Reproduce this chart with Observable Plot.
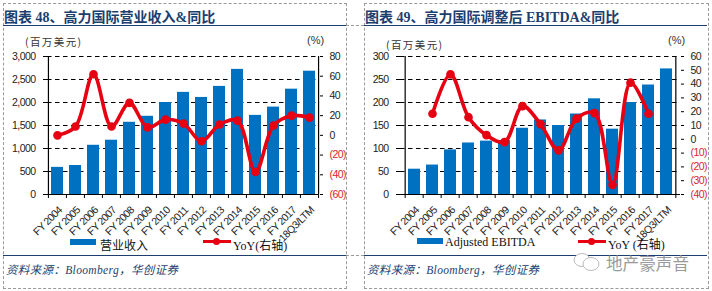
<!DOCTYPE html>
<html><head><meta charset="utf-8">
<script src="https://cdn.jsdelivr.net/npm/d3@7"></script>
<script src="https://cdn.jsdelivr.net/npm/@observablehq/plot@0.6"></script>
<style>
html,body{margin:0;padding:0;background:#fff;overflow:hidden}
#page{position:relative;width:712px;height:291px;overflow:hidden}
#page svg.panel{position:absolute;top:0;background:transparent}
.abs{position:absolute;white-space:nowrap;line-height:1}
.title{font:bold 14px "Liberation Serif","Noto Sans CJK SC";color:#1c3f6e}
.src{font:italic 11.5px "Liberation Serif","Noto Sans CJK SC";color:#1c3f6e;letter-spacing:.35px}
.unit{font:10.5px "Noto Sans CJK SC";color:#333;letter-spacing:1.4px}
.pct{font:11px "Liberation Sans";color:#333}
.leg{font:12px "Liberation Serif","Noto Sans CJK SC";color:#111}
.box{position:absolute}
</style></head><body><div id="page"></div>
<script>
const categories = ["FY 2004","FY 2005","FY 2006","FY 2007","FY 2008","FY 2009","FY 2010","FY 2011","FY 2012","FY 2013","FY 2014","FY 2015","FY 2016","FY 2017","18Q3/LTM"];
const revenue = [590,630,1070,1180,1570,1700,2000,2220,2110,2350,2720,1720,1900,2290,2680];
const revenueYoY = [0,9,62,9,33,8,16,12,-6,11,15,-37,10,20,18];
const ebitda = [55,64,97,112,116,117,144,162,150,175,208,142,200,238,273];
const ebitdaYoY = [null,18.5,47,16,3,-2,24,11,-8,15,19,-33,41,18.5,null];
const leftTicks = [0,500,1000,1500,2000,2500,3000];
const leftTicks2 = [0,50,100,150,200,250,300];
const rightTicksA = [-60,-40,-20,0,20,40,60,80];
const rightTicksB = [-40,-30,-20,-10,0,10,20,30,40,50,60];

const page = document.getElementById("page");
const ink = "#000", sideRed = "#d9232e";
const fontStyle = {fontFamily:"'Liberation Sans'", fontSize:"10.5px", letterSpacing:"-0.55px", color:"#222"};

function panel({left,width,mL,mR,values,yoy,lTicks,rTicks,lMax,rMin,rMax}){
  const toLeft = v => v == null ? null : (v - rMin) / (rMax - rMin) * lMax;
  const fromLeft = v => Math.round(v / lMax * (rMax - rMin) + rMin);
  const fmt = v => { const r = fromLeft(v); return r < 0 ? `(${-r})` : `${r}`; };
  const step = (width - mL - mR) / categories.length;
  const rows = categories.map((c,i)=>({c,v:values[i],r:toLeft(yoy[i])}));
  const posT = rTicks.filter(t=>t>=0).map(toLeft), negT = rTicks.filter(t=>t<0).map(toLeft);
  const svg = Plot.plot({
    width, height:240, marginLeft:mL, marginRight:mR, marginTop:56, marginBottom:46,
    style:{...fontStyle, background:"transparent", overflow:"visible"},
    x:{type:"band", domain:categories, paddingInner:0.33, paddingOuter:0.165, align:.5, label:null},
    y:{domain:[0,lMax], label:null},
    marks:[
      Plot.ruleY(lTicks.filter(t=>t>0),{stroke:ink, strokeWidth:1.1, strokeDasharray:"4.5 3.5"}),
      Plot.barY(rows,{x:"c",y:"v",fill:"#0070c0"}),
      Plot.ruleY([0],{stroke:ink,strokeWidth:1.2}),
      Plot.ruleX([categories[0]],{y1:0,y2:lMax,dx:-step/2,stroke:ink,strokeWidth:1.2}),
      Plot.ruleX([categories[categories.length-1]],{y1:0,y2:lMax,dx:step/2,stroke:ink,strokeWidth:1.2}),
      Plot.axisY({anchor:"left",ticks:lTicks,tickSize:4,tickPadding:8,tickFormat:d3.format(","),label:null,stroke:ink}),
      Plot.axisY({anchor:"right",ticks:[...posT,...negT],tickSize:3,text:null,label:null,stroke:ink}),
      Plot.axisY({anchor:"right",ticks:posT,tickSize:0,tickPadding:10,tickFormat:fmt,label:null}),
      Plot.axisY({anchor:"right",ticks:negT,tickSize:0,tickPadding:10,tickFormat:fmt,label:null,fill:sideRed,color:sideRed}),
      Plot.axisX({anchor:"bottom",ticks:categories,tickSize:4,text:null,label:null,dx:-step/2,stroke:ink}),
      Plot.axisX({anchor:"bottom",ticks:categories.slice(-1),tickSize:4,text:null,label:null,dx:step/2,stroke:ink}),
      Plot.text(categories,{x:d=>d,frameAnchor:"bottom",dy:11,lineAnchor:"top",text:d=>d,rotate:-45,textAnchor:"end",fill:"#222"}),
      Plot.line(rows,{x:"c",y:"r",stroke:"#e60012",strokeWidth:3.6,curve:"catmull-rom"}),
      Plot.dot(rows.filter(d=>d.r!=null),{x:"c",y:"r",r:3.6,fill:"#e60012",stroke:"#e60012"})
    ]
  });
  svg.classList.add("panel");
  svg.style.position="absolute"; svg.style.left=left+"px"; svg.style.top="0";
  page.appendChild(svg);
}
panel({left:0,width:345,mL:47,mR:26,values:revenue,yoy:revenueYoY,lTicks:leftTicks,rTicks:rightTicksA,lMax:3000,rMin:-60,rMax:80});
panel({left:356,width:356,mL:44,mR:32,values:ebitda,yoy:ebitdaYoY,lTicks:leftTicks2,rTicks:rightTicksB,lMax:300,rMin:-40,rMax:60});

function text(cls,x,y,s){const d=document.createElement("div");d.className="abs "+cls;d.style.left=x+"px";d.style.top=y+"px";d.textContent=s;page.appendChild(d);return d;}
function box(x,y,w,h,css){const d=document.createElement("div");d.className="box";d.style.cssText+=`left:${x}px;top:${y}px;width:${w}px;height:${h}px;${css}`;page.appendChild(d);return d;}
const dash="1px dashed #9a9a9a", navy="#1c3f6e";
box(3,3,342,284,`border-left:${dash};border-right:${dash};border-bottom:${dash};border-top:${dash};box-sizing:content-box`);
box(364,3,343,284,`border-left:${dash};border-right:${dash};border-bottom:${dash};border-top:${dash};box-sizing:content-box`);
box(346,25,18,0,`border-top:${dash}`);
box(346,255,18,0,`border-top:${dash}`);
box(3,24.5,343,1,`background:${navy}`);
box(364,24.5,343,1,`background:${navy}`);
box(3,255,343,1,`background:${navy}`);
box(364,255,343,1,`background:${navy}`);
text("title",4,6,"图表 48、高力国际营业收入&同比");
text("title",365,6,"图表 49、高力国际调整后 EBITDA&同比");
text("unit",25,34,"(百万美元)");
text("unit",386,37,"(百万美元)");
text("pct",307,34,"(%)");
text("pct",668,34,"(%)");
box(70,238.5,26,6,"background:#0070c0");
text("leg",100,235.5,"营业收入");
box(203,240,28,3,"background:#e60012");
box(213,238,7,7,"background:#e60012;border-radius:50%");
text("leg",233,235.5,"YoY(右轴)");
box(417,238,26,6,"background:#0070c0");
text("leg",445,235,"Adjusted EBITDA");
box(578,240,28,3,"background:#e60012");
box(588,238,7,7,"background:#e60012;border-radius:50%");
text("leg",608,235,"YoY (右轴)");
text("src",6,261,"资料来源：Bloomberg，华创证券");
text("src",367,261,"资料来源：Bloomberg，华创证券");
const wm=text("",606,251,"地产豪声音");
wm.style.cssText+=";font:16.5px 'Noto Sans CJK SC';color:#9a9a9a;letter-spacing:.1px";
const ic=box(572,252,30,20,"");
ic.innerHTML='<svg width="30" height="20"><ellipse cx="10" cy="8" rx="8" ry="6.5" fill="#fff" stroke="#bbb"/><ellipse cx="19" cy="12" rx="8" ry="6.5" fill="#fff" stroke="#bbb"/></svg>';
</script></body></html>
